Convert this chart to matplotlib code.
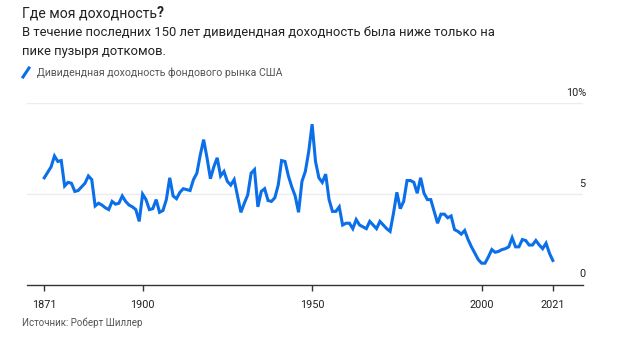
import matplotlib
matplotlib.use('Agg')
import matplotlib.pyplot as plt
import matplotlib.transforms as mtransforms

plt.rcParams['font.family'] = ['Roboto', 'DejaVu Sans']

years = list(range(1871, 2022))
yield_pct = [
    5.9, 6.2, 6.5, 7.1, 6.8, 6.85, 5.45, 5.65, 5.6, 5.15,   # 1871-1880
    5.2, 5.4, 5.6, 6.0, 5.8, 4.35, 4.5, 4.4, 4.25, 4.15,    # 1881-1890
    4.6, 4.45, 4.5, 4.9, 4.6, 4.4, 4.3, 4.15, 3.5, 5.0,     # 1891-1900
    4.7, 4.15, 4.2, 4.7, 4.0, 4.1, 4.7, 5.9, 4.9, 4.75,     # 1901-1910
    5.1, 5.3, 5.25, 5.2, 5.8, 6.15, 7.15, 8.0, 7.0, 5.85,   # 1911-1920
    6.5, 7.0, 6.0, 6.25, 5.7, 5.5, 5.8, 4.9, 4.0, 4.5,      # 1921-1930
    4.95, 6.15, 6.35, 4.3, 5.15, 5.3, 4.65, 4.6, 4.8, 5.5,  # 1931-1940
    6.85, 6.8, 6.0, 5.4, 4.9, 4.0, 5.7, 6.25, 7.35, 8.85,   # 1941-1950
    6.8, 5.9, 5.65, 6.1, 4.7, 4.05, 4.05, 4.3, 3.3, 3.4,    # 1951-1960
    3.4, 3.1, 3.6, 3.3, 3.2, 3.1, 3.5, 3.3, 3.1, 3.5,       # 1961-1970
    3.3, 3.1, 2.95, 3.95, 5.1, 4.2, 4.6, 5.75, 5.75, 5.65,  # 1971-1980
    5.05, 5.9, 5.05, 4.7, 4.7, 4.05, 3.4, 3.9, 3.9, 3.7,    # 1981-1990
    3.8, 3.05, 2.95, 2.8, 3.0, 2.5, 2.1, 1.75, 1.4, 1.2,    # 1991-2000
    1.2, 1.55, 1.95, 1.8, 1.85, 1.95, 2.0, 2.1, 2.6, 2.1,   # 2001-2010
    2.1, 2.5, 2.45, 2.2, 2.2, 2.45, 2.2, 2.0, 2.3, 1.75,    # 2011-2020
    1.35,                                                   # 2021
]
x_ticks = [1871, 1900, 1950, 2000, 2021]
y_ticks = [0, 5, 10]
y_labels = ['0', '5', '10%']

blue = '#0a6fe8'
txt = '#222222'
grey = '#555555'

fig = plt.figure(figsize=(6.2, 3.37), dpi=100)
ax = fig.add_axes([27 / 620, 1 - 285 / 337, 556 / 620, (285 - 103.3) / 337])

ax.plot(years, yield_pct, color=blue, lw=2.2, solid_joinstyle='miter', zorder=3)
ax.set_xlim(1865.9, 2029.9)
ax.set_ylim(0, 10)

for s in ['top', 'right', 'left']:
    ax.spines[s].set_visible(False)
ax.spines['bottom'].set_color('#333333')
ax.spines['bottom'].set_linewidth(1.0)

ax.set_xticks(x_ticks)
ax.set_xticklabels([str(y) for y in x_ticks])
ax.tick_params(axis='x', direction='out', length=4, width=1, color='#333333',
               labelsize=7.8, labelcolor=txt, pad=7)
ax.set_yticks([])
for v in y_ticks[1:]:
    ax.axhline(v, color='#ececec', lw=1, zorder=1)

# value labels sit above their gridlines on the right
trans = mtransforms.blended_transform_factory(ax.transAxes, ax.transData)
for v, lab in zip(y_ticks, y_labels):
    ax.annotate(lab, xy=(1.0065 if lab.endswith('%') else 1.0037, v), xycoords=trans,
                xytext=(0, 4), textcoords='offset points',
                ha='right', va='bottom', fontsize=7.8, color=txt)

# titles
t1 = fig.text(22 / 620, 1 - 13 / 337, 'Где моя доходность', fontsize=10.1,
              color=txt, va='center', ha='left')
fig.canvas.draw()
bb = t1.get_window_extent()
fig.text(bb.x1 / 620, 1 - 13 / 337, '?', fontsize=10.1, color=txt,
         fontweight='bold', va='center', ha='left')
fig.text(22 / 620, 1 - 42 / 337,
         'В течение последних 150 лет дивидендная доходность была ниже только на\n'
         'пике пузыря доткомов.', fontsize=9.4, color=txt, va='center',
         ha='left', linespacing=1.65)

# legend
fig.lines.append(plt.Line2D([23 / 620, 29 / 620], [1 - 77 / 337, 1 - 68 / 337],
                            color=blue, lw=2.2, transform=fig.transFigure))
fig.text(37 / 620, 1 - 73 / 337, 'Дивидендная доходность фондового рынка США',
         fontsize=7.6, color=grey, va='center', ha='left')

fig.text(22 / 620, 1 - 323 / 337, 'Источник: Роберт Шиллер', fontsize=7.0,
         color=grey, va='center', ha='left')

plt.savefig('out.png', dpi=100)
